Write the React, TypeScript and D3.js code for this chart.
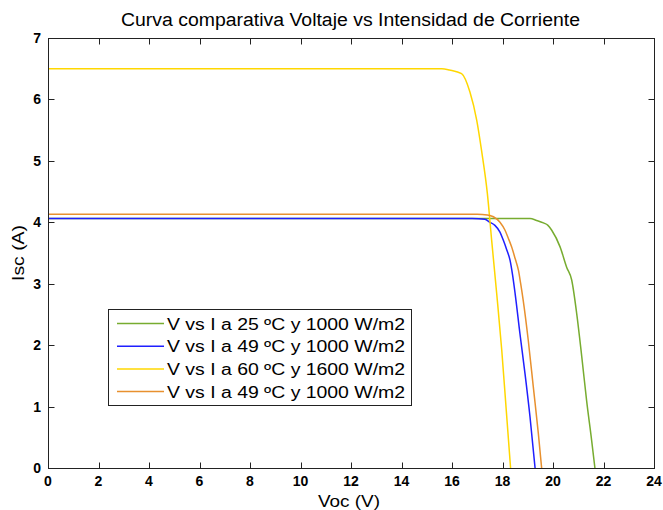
import React from "react";
import * as d3 from "d3";

// I-V curves of a solar panel under four temperature / irradiance conditions
const labels = [
  "V vs I a 25 ºC y 1000 W/m2",
  "V vs I a 49 ºC y 1000 W/m2",
  "V vs I a 60 ºC y 1600 W/m2",
  "V vs I a 49 ºC y 1000 W/m2",
];
const colors = ["#77ac30", "#1f1fff", "#ffd700", "#e8902e"];

const v25 = [0, 18.5, 19.09, 19.35, 19.62, 19.8, 19.95, 20.28, 20.54, 20.74, 20.94, 21.14, 21.33, 21.53, 21.66];
const i25 = [4.06, 4.06, 4.06, 4.03, 3.99, 3.95, 3.87, 3.6, 3.27, 3.06, 2.51, 1.81, 1.1, 0.45, 0];

const v49 = [0, 16.8, 17.3, 17.5, 17.7, 17.9, 18.03, 18.17, 18.3, 18.4, 18.5, 18.69, 18.89, 19.09, 19.29];
const i49 = [4.06, 4.06, 4.05, 4.0, 3.95, 3.84, 3.71, 3.55, 3.38, 3.14, 2.84, 2.19, 1.54, 0.83, 0];

const v60 = [0, 15.0, 15.6, 15.9, 16.38, 16.71, 16.98, 17.17, 17.4, 17.57, 17.77, 17.97, 18.14, 18.32];
const i60 = [6.5, 6.5, 6.5, 6.48, 6.42, 6.12, 5.66, 5.17, 4.47, 3.71, 2.84, 1.92, 0.99, 0];

const v49b = [0, 17.0, 17.4, 17.64, 17.9, 18.1, 18.23, 18.36, 18.5, 18.63, 18.72, 18.82, 19.02, 19.22, 19.42, 19.55];
const i49b = [4.13, 4.13, 4.12, 4.09, 4.0, 3.87, 3.74, 3.6, 3.41, 3.22, 3.0, 2.73, 2.08, 1.32, 0.56, 0];

const xTicks = [0, 2, 4, 6, 8, 10, 12, 14, 16, 18, 20, 22, 24];
const yTicks = [0, 1, 2, 3, 4, 5, 6, 7];

const W = 663;
const H = 510;
const left = 48;
const right = 654;
const top = 38;
const bottom = 468;

export default function App() {
  const x = d3.scaleLinear().domain([0, 24]).range([left, right]);
  const y = d3.scaleLinear().domain([0, 7]).range([bottom, top]);

  const series = [
    { v: v25, i: i25 },
    { v: v49, i: i49 },
    { v: v60, i: i60 },
    { v: v49b, i: i49b },
  ];

  const line = d3
    .line<[number, number]>()
    .x((d) => x(d[0]))
    .y((d) => y(d[1]))
    .curve(d3.curveMonotoneX);

  const tickLen = 6;
  const font = "'Liberation Sans', Arial, sans-serif";

  const legX = 108.5;
  const legY = 309.5;
  const legW = 303;
  const legH = 96;
  const rowY0 = 323.5;
  const rowH = 22.7;

  return (
    <svg
      width={W}
      height={H}
      style={{ position: "absolute", left: 0, top: 0, background: "#fff" }}
      fontFamily={font}
    >
      <rect x={0} y={0} width={W} height={H} fill="#fff" />
      <text
        x={121}
        y={26}
        fontSize={18}
        textLength={459}
        lengthAdjust="spacingAndGlyphs"
        fill="#000"
      >
        Curva comparativa Voltaje vs Intensidad de Corriente
      </text>

      <clipPath id="plotClip">
        <rect x={left} y={top} width={right - left} height={bottom - top} />
      </clipPath>

      <g clipPath="url(#plotClip)">
        {series.map((s, k) => (
          <path
            key={k}
            d={line(s.v.map((vv, j) => [vv, s.i[j]] as [number, number])) || ""}
            fill="none"
            stroke={colors[k]}
            strokeWidth={1.5}
          />
        ))}
      </g>

      {/* frame */}
      <rect
        x={left + 0.5}
        y={top + 0.5}
        width={right - left}
        height={bottom - top}
        fill="none"
        stroke="#222"
        strokeWidth={1}
      />

      {/* x ticks on bottom and top */}
      {xTicks.map((t) => {
        const px = Math.round(x(t)) + 0.5;
        return (
          <g key={"x" + t}>
            <line x1={px} x2={px} y1={bottom + 0.5} y2={bottom + 0.5 - tickLen} stroke="#222" />
            <line x1={px} x2={px} y1={top + 0.5} y2={top + 0.5 + tickLen} stroke="#222" />
            <text
              x={x(t)}
              y={486}
              fontSize={14}
              fontWeight="bold"
              textAnchor="middle"
              fill="#000"
            >
              {t}
            </text>
          </g>
        );
      })}

      {/* y ticks on left and right */}
      {yTicks.map((t) => {
        const py = Math.round(y(t)) + 0.5;
        return (
          <g key={"y" + t}>
            <line x1={left + 0.5} x2={left + 0.5 + tickLen} y1={py} y2={py} stroke="#222" />
            <line x1={right + 0.5} x2={right + 0.5 - tickLen} y1={py} y2={py} stroke="#222" />
            <text
              x={41}
              y={y(t) + 5}
              fontSize={14}
              fontWeight="bold"
              textAnchor="end"
              fill="#000"
            >
              {t}
            </text>
          </g>
        );
      })}

      <text
        x={318}
        y={507}
        fontSize={17}
        textLength={62}
        lengthAdjust="spacingAndGlyphs"
        fill="#000"
      >
        Voc (V)
      </text>
      <text
        transform={`translate(24, ${(top + bottom) / 2 + 28}) rotate(-90)`}
        fontSize={17}
        textLength={56}
        lengthAdjust="spacingAndGlyphs"
        fill="#000"
      >
        Isc (A)
      </text>

      {/* legend */}
      <rect x={legX} y={legY} width={legW} height={legH} fill="#fff" stroke="#222" strokeWidth={1} />
      {labels.map((lab, k) => {
        const cy = rowY0 + k * rowH;
        return (
          <g key={"l" + k}>
            <line x1={117} x2={164} y1={cy} y2={cy} stroke={colors[k]} strokeWidth={1.5} />
            <text
              x={167}
              y={cy + 6}
              fontSize={16}
              textLength={238}
              lengthAdjust="spacingAndGlyphs"
              fill="#000"
            >
              {lab}
            </text>
          </g>
        );
      })}
    </svg>
  );
}
